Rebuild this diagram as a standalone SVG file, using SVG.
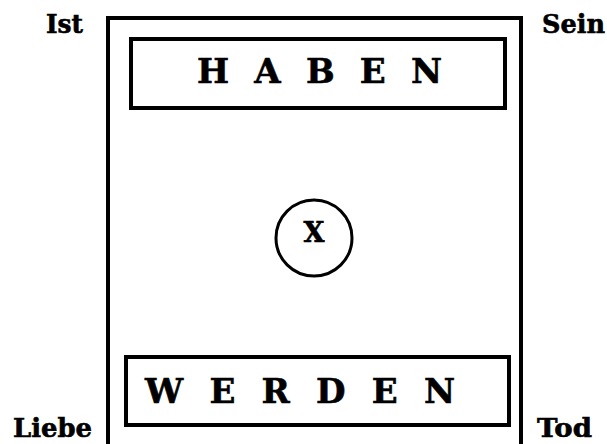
<svg xmlns="http://www.w3.org/2000/svg" width="607" height="444" viewBox="0 0 607 444">
<style>
.b{fill:none;stroke:#000;stroke-width:4}
.t{font-family:"DejaVu Serif","Liberation Serif",serif;font-weight:bold;fill:#000;stroke:#000;stroke-width:0.6}
.c{font-size:26px}
.big{font-size:34px}
</style>
<rect width="607" height="444" fill="#fff"/>
<g id="frame"><rect class="b" x="108" y="18" width="413" height="428"/></g>
<g id="haben"><rect class="b" x="131" y="39" width="374" height="69"/><text class="t big" x="197" y="83" textLength="245" lengthAdjust="spacing">H A B E N</text></g>
<g id="werden"><rect class="b" x="126" y="357" width="383" height="68"/><text class="t big" x="145" y="403" textLength="310" lengthAdjust="spacing">W E R D E N</text></g>
<g id="x"><circle cx="314" cy="238" r="38" fill="none" stroke="#000" stroke-width="3"/><text class="t" x="314" y="242" font-size="27" text-anchor="middle">X</text></g>
<g id="ist"><text class="t c" x="46" y="33" textLength="37" lengthAdjust="spacingAndGlyphs">Ist</text></g>
<g id="sein"><text class="t c" x="542" y="33" textLength="63" lengthAdjust="spacingAndGlyphs">Sein</text></g>
<g id="liebe"><text class="t c" x="13" y="437" textLength="79" lengthAdjust="spacingAndGlyphs">Liebe</text></g>
<g id="tod"><text class="t c" x="537" y="437" textLength="55" lengthAdjust="spacingAndGlyphs">Tod</text></g>
<g id="connectors"></g>
</svg>
